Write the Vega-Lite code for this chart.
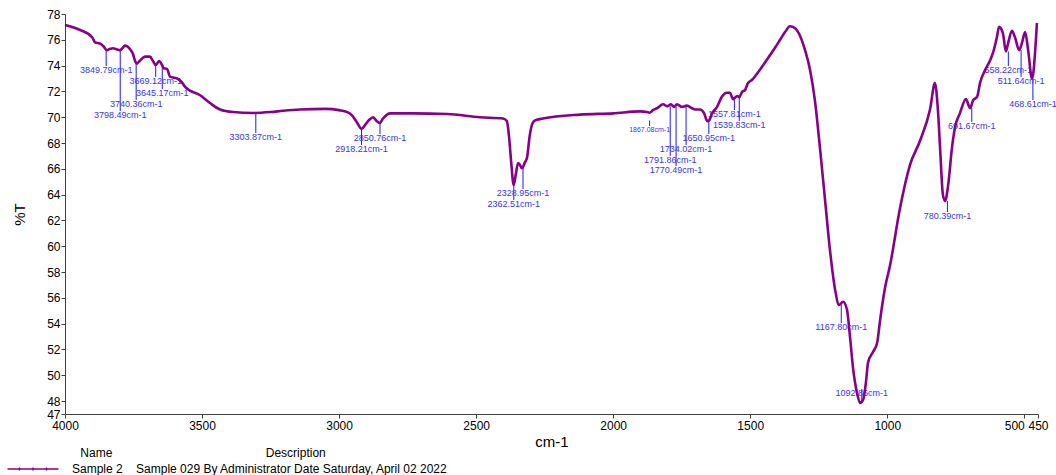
{
"$schema": "https://vega.github.io/schema/vega-lite/v6.json",
"width": 973, "height": 400,
"autosize": {"type": "none"},
"padding": {"left": 65, "top": 14, "right": 18, "bottom": 61},
"config": {"view": {"stroke": null}, "font": "Liberation Sans",
 "axisX": {"grid": false, "labelFontSize": 12, "labelColor": "#000", "titleFontSize": 15, "titleFontWeight": "normal", "titleColor": "#000",
    "tickSize": 4, "labelPadding": 2, "titlePadding": 3, "labelFlush": false, "labelOverlap": false,
    "domainColor": "#404040", "tickColor": "#404040"},
 "axisY": {"grid": false, "labelFontSize": 12, "labelColor": "#000", "titleFontSize": 15, "titleFontWeight": "normal", "titleColor": "#000",
    "tickSize": 4, "labelPadding": 1, "titlePadding": 19, "labelFlush": false, "labelOverlap": false,
    "domainColor": "#404040", "tickColor": "#404040"}
},
"datasets": {
"spectrum": [
{"wn":4000,"T":77.15,"name":"Sample 2"},{"wn":3945,"T":76.76,"name":"Sample 2"},{"wn":3901,"T":76.2,"name":"Sample 2"},{"wn":3890,"T":75.8,"name":"Sample 2"},{"wn":3872,"T":75.7,"name":"Sample 2"},{"wn":3860,"T":75.5,"name":"Sample 2"},{"wn":3847,"T":75.2,"name":"Sample 2"},{"wn":3835,"T":75.3,"name":"Sample 2"},{"wn":3825,"T":75.35,"name":"Sample 2"},{"wn":3810,"T":75.25,"name":"Sample 2"},{"wn":3800,"T":75.2,"name":"Sample 2"},{"wn":3792,"T":75.3,"name":"Sample 2"},{"wn":3781,"T":75.55,"name":"Sample 2"},{"wn":3770,"T":75.45,"name":"Sample 2"},{"wn":3760,"T":75.2,"name":"Sample 2"},{"wn":3752,"T":74.9,"name":"Sample 2"},{"wn":3745,"T":74.4,"name":"Sample 2"},{"wn":3738,"T":74.15,"name":"Sample 2"},{"wn":3726,"T":74.4,"name":"Sample 2"},{"wn":3708,"T":74.7,"name":"Sample 2"},{"wn":3690,"T":74.7,"name":"Sample 2"},{"wn":3679,"T":74.35,"name":"Sample 2"},{"wn":3669,"T":74.05,"name":"Sample 2"},{"wn":3657,"T":74.35,"name":"Sample 2"},{"wn":3646,"T":74.05,"name":"Sample 2"},{"wn":3640,"T":73.8,"name":"Sample 2"},{"wn":3628,"T":73.75,"name":"Sample 2"},{"wn":3617,"T":73.15,"name":"Sample 2"},{"wn":3600,"T":73.05,"name":"Sample 2"},{"wn":3591,"T":73.0,"name":"Sample 2"},{"wn":3573,"T":72.7,"name":"Sample 2"},{"wn":3562,"T":72.35,"name":"Sample 2"},{"wn":3507,"T":71.7,"name":"Sample 2"},{"wn":3471,"T":71.1,"name":"Sample 2"},{"wn":3434,"T":70.6,"name":"Sample 2"},{"wn":3387,"T":70.4,"name":"Sample 2"},{"wn":3314,"T":70.33,"name":"Sample 2"},{"wn":3250,"T":70.4,"name":"Sample 2"},{"wn":3204,"T":70.5,"name":"Sample 2"},{"wn":3142,"T":70.6,"name":"Sample 2"},{"wn":3050,"T":70.65,"name":"Sample 2"},{"wn":3000,"T":70.55,"name":"Sample 2"},{"wn":2970,"T":70.4,"name":"Sample 2"},{"wn":2953,"T":70.15,"name":"Sample 2"},{"wn":2935,"T":69.6,"name":"Sample 2"},{"wn":2918,"T":69.1,"name":"Sample 2"},{"wn":2905,"T":69.4,"name":"Sample 2"},{"wn":2890,"T":69.8,"name":"Sample 2"},{"wn":2876,"T":70.0,"name":"Sample 2"},{"wn":2865,"T":69.75,"name":"Sample 2"},{"wn":2852,"T":69.55,"name":"Sample 2"},{"wn":2840,"T":69.9,"name":"Sample 2"},{"wn":2814,"T":70.3,"name":"Sample 2"},{"wn":2730,"T":70.3,"name":"Sample 2"},{"wn":2606,"T":70.25,"name":"Sample 2"},{"wn":2486,"T":70.0,"name":"Sample 2"},{"wn":2402,"T":69.9,"name":"Sample 2"},{"wn":2388,"T":69.7,"name":"Sample 2"},{"wn":2380,"T":68.5,"name":"Sample 2"},{"wn":2372,"T":66.5,"name":"Sample 2"},{"wn":2363,"T":64.75,"name":"Sample 2"},{"wn":2355,"T":65.6,"name":"Sample 2"},{"wn":2347,"T":66.45,"name":"Sample 2"},{"wn":2340,"T":66.3,"name":"Sample 2"},{"wn":2333,"T":66.05,"name":"Sample 2"},{"wn":2322,"T":66.5,"name":"Sample 2"},{"wn":2314,"T":66.9,"name":"Sample 2"},{"wn":2305,"T":68.5,"name":"Sample 2"},{"wn":2295,"T":69.5,"name":"Sample 2"},{"wn":2285,"T":69.75,"name":"Sample 2"},{"wn":2256,"T":69.9,"name":"Sample 2"},{"wn":2121,"T":70.2,"name":"Sample 2"},{"wn":2000,"T":70.3,"name":"Sample 2"},{"wn":1900,"T":70.45,"name":"Sample 2"},{"wn":1877,"T":70.4,"name":"Sample 2"},{"wn":1867,"T":70.35,"name":"Sample 2"},{"wn":1855,"T":70.55,"name":"Sample 2"},{"wn":1840,"T":70.7,"name":"Sample 2"},{"wn":1818,"T":71.0,"name":"Sample 2"},{"wn":1803,"T":70.85,"name":"Sample 2"},{"wn":1789,"T":71.0,"name":"Sample 2"},{"wn":1778,"T":70.8,"name":"Sample 2"},{"wn":1767,"T":71.0,"name":"Sample 2"},{"wn":1749,"T":70.8,"name":"Sample 2"},{"wn":1731,"T":70.9,"name":"Sample 2"},{"wn":1712,"T":70.7,"name":"Sample 2"},{"wn":1701,"T":70.6,"name":"Sample 2"},{"wn":1683,"T":70.6,"name":"Sample 2"},{"wn":1668,"T":70.3,"name":"Sample 2"},{"wn":1657,"T":69.7,"name":"Sample 2"},{"wn":1650,"T":69.75,"name":"Sample 2"},{"wn":1639,"T":70.3,"name":"Sample 2"},{"wn":1621,"T":70.8,"name":"Sample 2"},{"wn":1603,"T":71.6,"name":"Sample 2"},{"wn":1585,"T":71.9,"name":"Sample 2"},{"wn":1574,"T":71.9,"name":"Sample 2"},{"wn":1563,"T":71.4,"name":"Sample 2"},{"wn":1556,"T":71.5,"name":"Sample 2"},{"wn":1548,"T":71.65,"name":"Sample 2"},{"wn":1540,"T":71.55,"name":"Sample 2"},{"wn":1530,"T":71.95,"name":"Sample 2"},{"wn":1519,"T":72.1,"name":"Sample 2"},{"wn":1508,"T":72.65,"name":"Sample 2"},{"wn":1493,"T":72.9,"name":"Sample 2"},{"wn":1464,"T":73.7,"name":"Sample 2"},{"wn":1428,"T":74.8,"name":"Sample 2"},{"wn":1409,"T":75.4,"name":"Sample 2"},{"wn":1391,"T":76.0,"name":"Sample 2"},{"wn":1373,"T":76.6,"name":"Sample 2"},{"wn":1355,"T":77.05,"name":"Sample 2"},{"wn":1336,"T":76.9,"name":"Sample 2"},{"wn":1318,"T":76.3,"name":"Sample 2"},{"wn":1300,"T":75.2,"name":"Sample 2"},{"wn":1282,"T":73.7,"name":"Sample 2"},{"wn":1264,"T":71.3,"name":"Sample 2"},{"wn":1245,"T":67.5,"name":"Sample 2"},{"wn":1227,"T":63.6,"name":"Sample 2"},{"wn":1209,"T":59.7,"name":"Sample 2"},{"wn":1190,"T":56.6,"name":"Sample 2"},{"wn":1176,"T":55.45,"name":"Sample 2"},{"wn":1161,"T":55.7,"name":"Sample 2"},{"wn":1147,"T":55.1,"name":"Sample 2"},{"wn":1136,"T":53.0,"name":"Sample 2"},{"wn":1125,"T":50.6,"name":"Sample 2"},{"wn":1110,"T":48.6,"name":"Sample 2"},{"wn":1099,"T":47.85,"name":"Sample 2"},{"wn":1088,"T":48.1,"name":"Sample 2"},{"wn":1077,"T":49.6,"name":"Sample 2"},{"wn":1070,"T":51.0,"name":"Sample 2"},{"wn":1052,"T":51.8,"name":"Sample 2"},{"wn":1037,"T":52.5,"name":"Sample 2"},{"wn":1026,"T":54.3,"name":"Sample 2"},{"wn":1008,"T":56.8,"name":"Sample 2"},{"wn":990,"T":58.5,"name":"Sample 2"},{"wn":953,"T":63.0,"name":"Sample 2"},{"wn":917,"T":66.3,"name":"Sample 2"},{"wn":880,"T":68.2,"name":"Sample 2"},{"wn":844,"T":70.6,"name":"Sample 2"},{"wn":826,"T":72.65,"name":"Sample 2"},{"wn":815,"T":70.5,"name":"Sample 2"},{"wn":807,"T":67.5,"name":"Sample 2"},{"wn":797,"T":64.0,"name":"Sample 2"},{"wn":789,"T":63.5,"name":"Sample 2"},{"wn":778,"T":64.7,"name":"Sample 2"},{"wn":764,"T":67.6,"name":"Sample 2"},{"wn":753,"T":69.2,"name":"Sample 2"},{"wn":735,"T":70.3,"name":"Sample 2"},{"wn":713,"T":71.4,"name":"Sample 2"},{"wn":698,"T":70.7,"name":"Sample 2"},{"wn":687,"T":71.3,"name":"Sample 2"},{"wn":672,"T":71.6,"name":"Sample 2"},{"wn":661,"T":72.7,"name":"Sample 2"},{"wn":643,"T":73.65,"name":"Sample 2"},{"wn":625,"T":74.4,"name":"Sample 2"},{"wn":614,"T":75.0,"name":"Sample 2"},{"wn":600,"T":76.2,"name":"Sample 2"},{"wn":592,"T":77.0,"name":"Sample 2"},{"wn":578,"T":76.5,"name":"Sample 2"},{"wn":567,"T":75.1,"name":"Sample 2"},{"wn":559,"T":75.75,"name":"Sample 2"},{"wn":545,"T":76.7,"name":"Sample 2"},{"wn":534,"T":76.2,"name":"Sample 2"},{"wn":519,"T":75.2,"name":"Sample 2"},{"wn":508,"T":75.8,"name":"Sample 2"},{"wn":497,"T":76.6,"name":"Sample 2"},{"wn":486,"T":75.2,"name":"Sample 2"},{"wn":472,"T":73.0,"name":"Sample 2"},{"wn":468,"T":73.3,"name":"Sample 2"},{"wn":454,"T":77.3,"name":"Sample 2"}
],
"peaks": [
{"wn":3849.79,"ypk":75.2,"ylab":73.97,"label":"3849.79cm-1"},
{"wn":3798.49,"ypk":75.2,"ylab":70.48,"label":"3798.49cm-1"},
{"wn":3740.36,"ypk":74.15,"ylab":71.33,"label":"3740.36cm-1"},
{"wn":3669.12,"ypk":74.05,"ylab":73.12,"label":"3669.12cm-1"},
{"wn":3645.17,"ypk":74.05,"ylab":72.19,"label":"3645.17cm-1"},
{"wn":3303.87,"ypk":70.33,"ylab":68.78,"label":"3303.87cm-1"},
{"wn":2918.21,"ypk":69.1,"ylab":67.85,"label":"2918.21cm-1"},
{"wn":2850.76,"ypk":69.55,"ylab":68.7,"label":"2850.76cm-1"},
{"wn":2362.51,"ypk":64.75,"ylab":63.58,"label":"2362.51cm-1"},
{"wn":2328.95,"ypk":66.05,"ylab":64.44,"label":"2328.95cm-1"},
{"wn":1867.08,"ypk":69.75,"ylab":69.32,"label":"1867.08cm-1"},
{"wn":1791.86,"ypk":70.85,"ylab":67.0,"label":"1791.86cm-1"},
{"wn":1770.49,"ypk":70.8,"ylab":66.22,"label":"1770.49cm-1"},
{"wn":1734.02,"ypk":70.8,"ylab":67.85,"label":"1734.02cm-1"},
{"wn":1650.95,"ypk":69.75,"ylab":68.7,"label":"1650.95cm-1"},
{"wn":1557.81,"ypk":71.45,"ylab":70.56,"label":"1557.81cm-1"},
{"wn":1539.83,"ypk":71.55,"ylab":69.7,"label":"1539.83cm-1"},
{"wn":1167.80,"ypk":55.45,"ylab":54.05,"label":"1167.80cm-1"},
{"wn":1092.86,"ypk":47.85,"ylab":48.94,"label":"1092.86cm-1"},
{"wn":780.39,"ypk":63.5,"ylab":62.65,"label":"780.39cm-1"},
{"wn":691.67,"ypk":70.7,"ylab":69.63,"label":"691.67cm-1"},
{"wn":558.22,"ypk":75.1,"ylab":73.97,"label":"558.22cm-1"},
{"wn":511.64,"ypk":75.2,"ylab":73.12,"label":"511.64cm-1"},
{"wn":468.61,"ypk":73.0,"ylab":71.33,"label":"468.61cm-1"}
]
},
"layer": [
{"data": {"name": "peaks"},
 "mark": {"type": "rule", "color": "#1a1aff", "strokeWidth": 1},
 "encoding": {
  "x": {"field": "wn", "type": "quantitative", "scale": {"domain": [450, 4000], "reverse": true, "nice": false, "zero": false},
   "axis": {"title": "cm-1", "values": [4000, 3500, 3000, 2500, 2000, 1500, 1000, 500, 450], "format": "d", "labelOverlap": false,
    "labelAlign": {"condition": {"test": "datum.value == 500", "value": "right"}, "value": "center"}}},
  "y": {"field": "ypk", "type": "quantitative", "scale": {"domain": [47, 78], "nice": false, "zero": false},
   "axis": {"title": "%T", "values": [47, 48, 50, 52, 54, 56, 58, 60, 62, 64, 66, 68, 70, 72, 74, 76, 78], "format": "d", "labelOverlap": false}},
  "y2": {"field": "ylab"}
 }},
{"data": {"name": "peaks"},
 "mark": {"type": "text", "color": "#3535ff", "baseline": "top", "align": "center", "font": "Liberation Sans"},
 "encoding": {
  "x": {"field": "wn", "type": "quantitative",
   "axis": {"title": "cm-1", "values": [4000, 3500, 3000, 2500, 2000, 1500, 1000, 500, 450], "format": "d", "labelOverlap": false,
    "labelAlign": {"condition": {"test": "datum.value == 500", "value": "right"}, "value": "center"}}},
  "y": {"field": "ylab", "type": "quantitative",
   "axis": {"title": "%T", "values": [47, 48, 50, 52, 54, 56, 58, 60, 62, 64, 66, 68, 70, 72, 74, 76, 78], "format": "d", "labelOverlap": false}},
  "text": {"field": "label"},
  "size": {"condition": {"test": "datum.wn == 1867.08", "value": 7}, "value": 9}
 }},
{"data": {"name": "spectrum"},
 "mark": {"type": "line", "strokeWidth": 2.6, "interpolate": "monotone"},
 "encoding": {
  "x": {"field": "wn", "type": "quantitative",
   "axis": {"title": "cm-1", "values": [4000, 3500, 3000, 2500, 2000, 1500, 1000, 500, 450], "format": "d", "labelOverlap": false,
    "labelAlign": {"condition": {"test": "datum.value == 500", "value": "right"}, "value": "center"}}},
  "y": {"field": "T", "type": "quantitative",
   "axis": {"title": "%T", "values": [47, 48, 50, 52, 54, 56, 58, 60, 62, 64, 66, 68, 70, 72, 74, 76, 78], "format": "d", "labelOverlap": false}},
  "color": {"field": "name", "type": "nominal", "scale": {"range": ["#870087"]},
   "legend": {"orient": "none", "legendX": -38, "legendY": 434, "padding": 0,
    "title": "\u200b\u00a0\u00a0\u00a0\u00a0\u00a0\u00a0\u00a0\u00a0\u00a0\u00a0\u00a0\u00a0\u00a0\u00a0\u00a0\u00a0Name\u00a0\u00a0\u00a0\u00a0\u00a0\u00a0\u00a0\u00a0\u00a0\u00a0\u00a0\u00a0\u00a0\u00a0\u00a0\u00a0\u00a0\u00a0\u00a0\u00a0\u00a0\u00a0\u00a0\u00a0\u00a0\u00a0\u00a0\u00a0\u00a0\u00a0\u00a0\u00a0\u00a0\u00a0\u00a0\u00a0\u00a0\u00a0\u00a0\u00a0\u00a0\u00a0\u00a0\u00a0\u00a0\u00a0Description",
    "titleFontSize": 12, "titleFontWeight": "normal", "titleColor": "#000", "titleLimit": 800, "titlePadding": 3,
    "labelFontSize": 12, "labelColor": "#000", "labelLimit": 800, "labelOffset": 33,
    "labelExpr": "datum.label + '\u00a0\u00a0\u00a0\u00a0Sample 029 By Administrator Date Saturday, April 02 2022'",
    "symbolType": "M-5.1,0H5.1M-2.7,-0.3V0.3M0,-0.3V0.3M2.7,-0.3V0.3",
    "symbolSize": 100, "symbolStrokeColor": "#c040c0", "symbolStrokeWidth": 1.5, "symbolFillColor": "transparent"}}
 }}
]
}
